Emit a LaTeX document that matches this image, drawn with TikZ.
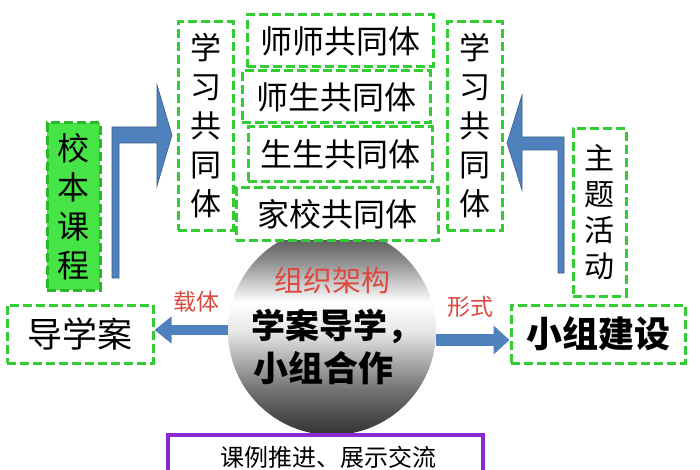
\documentclass[tikz,border=0pt]{standalone}
\usepackage{fontspec}
\newfontfamily\cjk{Noto Sans CJK SC}
\usetikzlibrary{arrows.meta}
\definecolor{dgreen}{RGB}{51,204,51}
\definecolor{fgreen}{RGB}{70,228,70}
\definecolor{bgreen}{RGB}{40,185,40}
\definecolor{ablue}{RGB}{79,129,189}
\definecolor{aedge}{RGB}{56,93,138}
\definecolor{lred}{RGB}{222,72,62}
\definecolor{vpurple}{RGB}{140,40,210}
\definecolor{s1}{RGB}{50,50,50}
\definecolor{s2}{RGB}{115,115,115}
\definecolor{s3}{RGB}{232,232,232}
\definecolor{s4}{RGB}{140,140,140}
\definecolor{s5}{RGB}{70,70,70}
\pgfdeclareverticalshading{metal}{100bp}{color(0bp)=(s1); color(25bp)=(s1); color(36bp)=(s2); color(50bp)=(s3); color(57bp)=(white); color(67bp)=(s4); color(75bp)=(s5); color(100bp)=(s5)}
\begin{document}
\begin{tikzpicture}[x=1pt,y=-1pt,
  gbox/.style={draw=dgreen, line width=3pt, dash pattern=on 9pt off 4pt, fill=white, inner sep=0pt, font=\cjk\fontsize{32}{36}\selectfont},
  vbox/.style={gbox, align=center, font=\cjk\fontsize{31}{39}\selectfont},
  redlab/.style={text=lred, font=\cjk\fontsize{23}{26}\selectfont, inner sep=0pt},
  blockarrow/.style={fill=ablue, draw=aedge, line width=0.6pt, line join=miter},
  linearrow/.style={draw=ablue, line width=#1}
]
\useasboundingbox (0,0) rectangle (700,470);
\fill[white] (0,0) rectangle (700,470);

% central sphere
\node[circle, minimum size=208pt, inner sep=0pt, shading=metal] (ball) at (332,331) {};

% top boxes
\node[vbox, minimum width=55pt, minimum height=208pt] (xxl) at (205.5,126) {学\\习\\共\\同\\体};
\node[vbox, minimum width=55pt, minimum height=208pt] (xxr) at (474.5,126) {学\\习\\共\\同\\体};
\node[gbox, minimum width=186pt, minimum height=52pt] (ss) at (340,41) {师师共同体};
\node[gbox, minimum width=188pt, minimum height=52pt] (sst) at (336,97) {师生共同体};
\node[gbox, minimum width=184pt, minimum height=55pt] (sts) at (340,154.5) {生生共同体};
\node[gbox, minimum width=202pt, minimum height=52pt] (jx) at (337,214) {家校共同体};

% side boxes
\node[vbox, draw=bgreen, fill=fgreen, minimum width=53pt, minimum height=167pt, font=\cjk\fontsize{32}{39}\selectfont] (xbkc) at (73.5,206.5) {校\\本\\课\\程};
\node[vbox, minimum width=53pt, minimum height=167pt, font=\cjk\fontsize{30}{36}\selectfont] (zthd) at (599.5,212.5) {主\\题\\活\\动};
\node[gbox, minimum width=146pt, minimum height=58pt, font=\cjk\fontsize{35}{38}\selectfont] (dxa) at (80,334) {导学案\hspace{10pt}};
\node[gbox, minimum width=174pt, minimum height=58pt, font=\cjk\bfseries\fontsize{36}{38}\selectfont] (xzjs) at (598,334) {小组建设};

% purple box
\node[draw=vpurple, line width=4pt, fill=white, minimum width=315pt, minimum height=48pt, inner sep=0pt] (kl) at (325.5,459) {};
\node[font=\cjk\fontsize{24}{26}\selectfont, inner sep=0pt] (klt) at (328,457) {课例推进、展示交流};

% sphere text
\node[text=lred, font=\cjk\fontsize{29}{32}\selectfont, inner sep=0pt] (zzjg) at (332,280) {组织架构};
\node[font=\cjk\bfseries\fontsize{34}{36}\selectfont, inner sep=0pt] (xadx) at (336,326) {学案导学，};
\node[font=\cjk\bfseries\fontsize{35}{38}\selectfont, inner sep=0pt] (xzhz) at (323,368) {小组合作};

% horizontal arrows
\draw[linearrow=10pt, -{Triangle[length=17pt,width=26pt]}] ([yshift=1pt]ball.west) -- ([yshift=1pt]ball.west -| dxa.east);
\draw[linearrow=12pt, -{Triangle[length=16pt,width=28pt]}] ([yshift=-9pt]ball.east) -- ([yshift=-9pt]ball.east -| xzjs.west);
\node[redlab] (zt) at (196,302) {载体};
\node[redlab] (xs) at (470,307) {形式};

% bent block arrows
\path[blockarrow] (112,278) -- (119,278) -- (119,143) -- (157,143) -- (157,186) -- (172,135)
  -- (157,85) -- (157,127) -- (112,127) -- cycle;
\path[blockarrow] (564,273) -- (558,273) -- (558,150) -- (522,150) -- (522,190) -- (507,143)
  -- (522,95) -- (522,137) -- (564,137) -- cycle;
\end{tikzpicture}
\end{document}
